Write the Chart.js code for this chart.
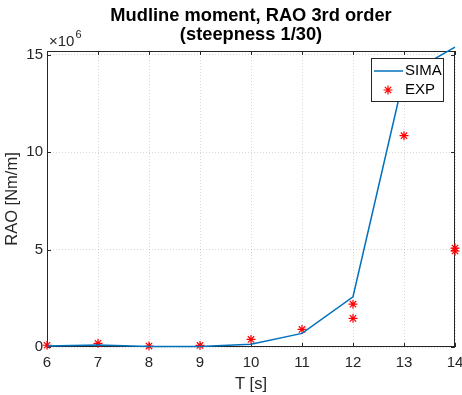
<!DOCTYPE html>
<html>
<head>
<meta charset="utf-8">
<script src="https://cdn.jsdelivr.net/npm/chart.js@4.4.0/dist/chart.umd.min.js"></script>
<style>
  html, body { margin: 0; padding: 0; background: #fff; }
  #wrap { width: 462px; height: 395px; }
</style>
</head>
<body>
<div id="wrap"><canvas id="rao" width="462" height="395"></canvas></div>
<script>
// wave period [s] vs 3rd order RAO of the mudline moment [Nm/m]
var periods = [6, 7, 8, 9, 10, 11, 12, 13, 14];
var simaRao = [0.05e6, 0.10e6, 0.02e6, 0.02e6, 0.14e6, 0.70e6, 2.58e6, 13.9e6, 15.4e6];
var expPeriods = [6, 7, 8, 9, 10, 11, 12, 12, 13, 14, 14];
var expRao = [0.09e6, 0.19e6, 0.05e6, 0.08e6, 0.39e6, 0.90e6, 2.20e6, 1.47e6, 10.85e6, 5.08e6, 4.93e6];
var xTicks = [6, 7, 8, 9, 10, 11, 12, 13, 14];
var yTicks = [0, 5e6, 10e6, 15e6];
var yMax = 15.2e6;
var yExp = 6;
var titleLines = ['Mudline moment, RAO 3rd order', '(steepness 1/30)'];

var FONT = '"Liberation Sans", Arial, Helvetica, sans-serif';
var AXIS = '#262626';
var BLUE = '#0072BD';
var RED = '#ff0000';

function pairs(xs, ys) {
  return xs.map(function (x, i) { return { x: x, y: ys[i] }; });
}

// title, box, inward ticks, exponent label and legend drawn matlab-style
var matlabAxes = {
  id: 'matlabAxes',
  beforeDatasetsDraw: function (chart) {
    var ctx = chart.ctx, a = chart.chartArea;
    var xs = chart.scales.x, ys = chart.scales.y;
    var L = 4;
    ctx.save();

    // two-line bold title centred over the axes
    var cx = (a.left + a.right) / 2;
    ctx.fillStyle = '#000';
    ctx.textAlign = 'center';
    ctx.textBaseline = 'alphabetic';
    ctx.font = 'bold 18.3px ' + FONT;
    ctx.fillText(titleLines[0], cx, 20.5);
    ctx.fillText(titleLines[1], cx, 40);

    ctx.strokeStyle = AXIS;
    ctx.lineWidth = 1;
    ctx.beginPath();
    xTicks.forEach(function (t) {
      var px = Math.round(xs.getPixelForValue(t)) + 0.5;
      ctx.moveTo(px, a.bottom); ctx.lineTo(px, a.bottom - L);
      ctx.moveTo(px, a.top); ctx.lineTo(px, a.top + L);
    });
    yTicks.forEach(function (t) {
      var py = Math.round(ys.getPixelForValue(t)) + 0.5;
      ctx.moveTo(a.left, py); ctx.lineTo(a.left + L, py);
      ctx.moveTo(a.right, py); ctx.lineTo(a.right - L, py);
    });
    ctx.stroke();
    ctx.strokeRect(Math.round(a.left) + 0.5, Math.round(a.top) + 0.5,
      Math.round(a.right - a.left) - 1, Math.round(a.bottom - a.top) - 1);

    // exponent above the y axis
    ctx.fillStyle = AXIS;
    ctx.textAlign = 'left';
    ctx.font = '15px ' + FONT;
    ctx.fillText('\u00d710', a.left + 2, a.top - 5);
    var w = ctx.measureText('\u00d710').width;
    ctx.font = '11px ' + FONT;
    ctx.fillText(String(yExp), a.left + 3 + w, a.top - 13);
    ctx.restore();
  },
  afterDraw: function (chart) {
    var ctx = chart.ctx;
    var ds = chart.data.datasets;
    var bx = 371, by = 58, bw = 72, bh = 43;
    ctx.save();
    ctx.fillStyle = '#fff';
    ctx.fillRect(bx, by, bw, bh);
    ctx.strokeStyle = AXIS;
    ctx.lineWidth = 1;
    ctx.strokeRect(bx + 0.5, by + 0.5, bw, bh);

    ctx.strokeStyle = BLUE;
    ctx.lineWidth = 1.5;
    ctx.beginPath();
    ctx.moveTo(bx + 3, by + 13); ctx.lineTo(bx + 32, by + 13);
    ctx.stroke();

    ctx.strokeStyle = RED;
    ctx.lineWidth = 1.2;
    var cx = bx + 17, cy = by + 32, r = 4.5, d = r * Math.SQRT1_2;
    ctx.beginPath();
    ctx.moveTo(cx - r, cy); ctx.lineTo(cx + r, cy);
    ctx.moveTo(cx, cy - r); ctx.lineTo(cx, cy + r);
    ctx.moveTo(cx - d, cy - d); ctx.lineTo(cx + d, cy + d);
    ctx.moveTo(cx - d, cy + d); ctx.lineTo(cx + d, cy - d);
    ctx.stroke();

    ctx.fillStyle = '#000';
    ctx.font = '15px ' + FONT;
    ctx.textBaseline = 'middle';
    ctx.textAlign = 'left';
    ctx.fillText(ds[0].label, bx + 34, by + 13);
    ctx.fillText(ds[1].label, bx + 34, by + 32);
    ctx.restore();
  }
};

function noEdgePadding(s) {
  s.paddingLeft = 0; s.paddingRight = 0;
  s.paddingTop = 0; s.paddingBottom = 0;
}

var ctx = document.getElementById('rao').getContext('2d');
var chart = new Chart(ctx, {
  type: 'scatter',
  data: {
    datasets: [{
      label: 'SIMA',
      data: pairs(periods, simaRao),
      showLine: true,
      borderColor: BLUE,
      borderWidth: 1.5,
      pointRadius: 0,
      fill: false,
      tension: 0,
      clip: 6
    }, {
      label: 'EXP',
      data: pairs(expPeriods, expRao),
      showLine: false,
      pointStyle: 'star',
      pointRadius: 4.5,
      borderColor: RED,
      backgroundColor: RED,
      pointBorderWidth: 1.2,
      clip: false
    }]
  },
  options: {
    responsive: false,
    devicePixelRatio: 1,
    animation: false,
    layout: { padding: { top: 51, right: 7, left: 0, bottom: 0 } },
    plugins: {
      legend: { display: false },
      tooltip: { enabled: false },
      title: { display: false }
    },
    scales: {
      x: {
        type: 'linear',
        min: 6,
        max: 14,
        afterBuildTicks: function (s) { s.ticks = xTicks.map(function (v) { return { value: v }; }); },
        afterFit: function (s) { s.height = 48; noEdgePadding(s); },
        ticks: { color: AXIS, padding: 7, font: { family: FONT, size: 15 } },
        grid: { color: 'rgba(38,38,38,0.18)', drawTicks: false },
        border: { display: false, dash: [1, 2] },
        title: {
          display: true, text: 'T [s]', color: AXIS,
          font: { family: FONT, size: 16.5 }, padding: { top: 0, bottom: 1 }
        }
      },
      y: {
        type: 'linear',
        min: 0,
        max: yMax,
        afterBuildTicks: function (s) { s.ticks = yTicks.map(function (v) { return { value: v }; }); },
        afterFit: function (s) { s.width = 47; noEdgePadding(s); },
        ticks: {
          color: AXIS, padding: 4, font: { family: FONT, size: 15 },
          callback: function (v) { return v / Math.pow(10, yExp); }
        },
        grid: { color: 'rgba(38,38,38,0.18)', drawTicks: false },
        border: { display: false, dash: [1, 2] },
        title: {
          display: true, text: 'RAO [Nm/m]', color: AXIS,
          font: { family: FONT, size: 16.5 }, padding: { top: 3, bottom: 3 }
        }
      }
    }
  },
  plugins: [matlabAxes]
});
</script>
</body>
</html>
